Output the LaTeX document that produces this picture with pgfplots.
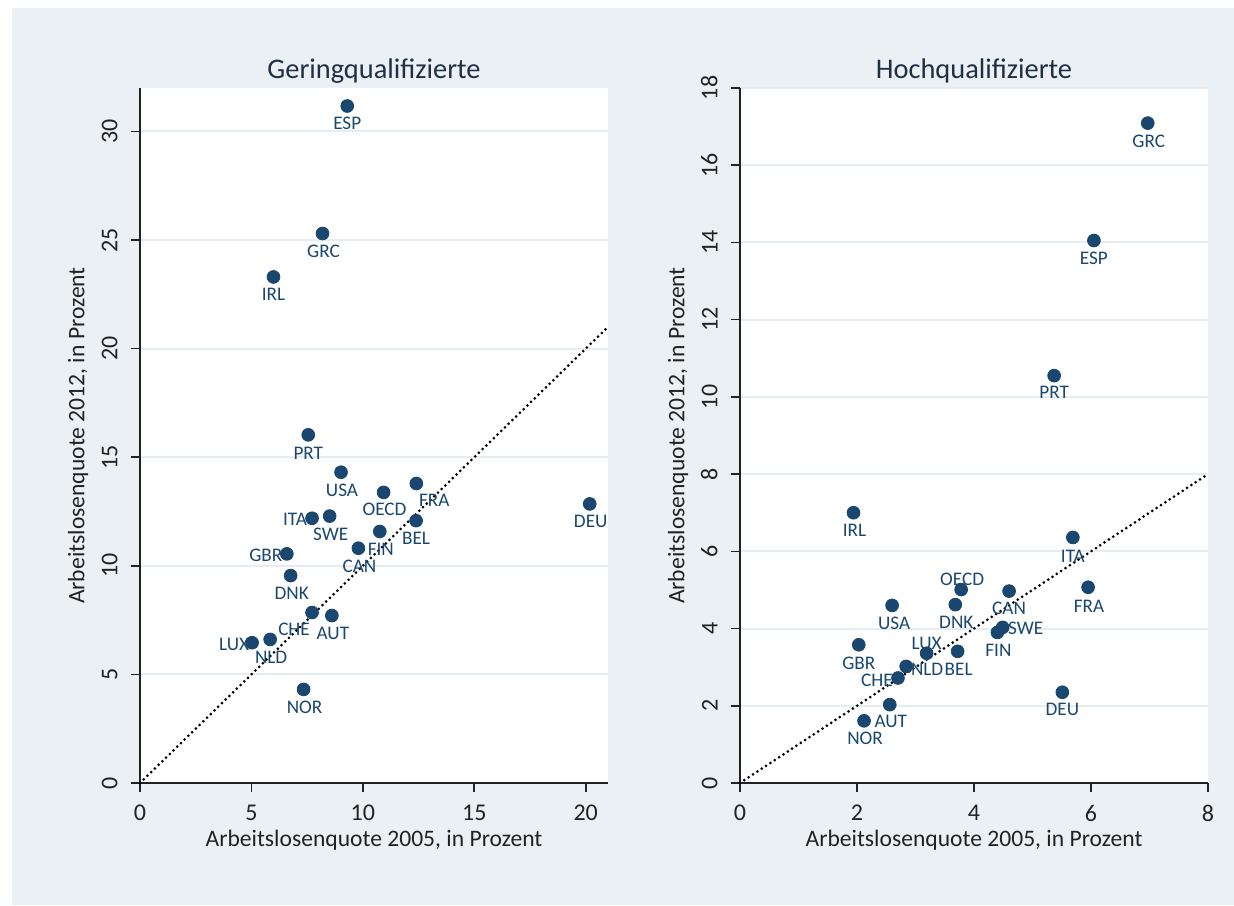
\documentclass[border=0pt]{standalone}
\usepackage{pgfplots}
\pgfplotsset{compat=1.18}
\usepackage{pgfplotstable}
\usepackage{fontspec}
\setmainfont{Carlito}
\definecolor{bg}{HTML}{EAF0F3}
\definecolor{navy}{HTML}{1A476F}
\definecolor{gridc}{HTML}{E6EDF0}
\definecolor{axc}{HTML}{222222}
\definecolor{titlec}{HTML}{1F2F45}

\pgfplotstableread{
x y lab dx dy
9.30 31.17 ESP 0 -8.5
8.19 25.30 GRC 0.5 -9
5.99 23.30 IRL 0 -8.5
7.55 16.03 PRT 0 -9
9.02 14.31 USA 0.5 -9
10.93 13.38 OECD 0.5 -8.5
12.40 13.79 FRA 9 -8.5
7.72 12.19 ITA -8.5 -0.5
8.51 12.29 SWE 0.5 -9
12.39 12.08 BEL 0 -9
10.76 11.58 FIN 0.5 -9
9.80 10.81 CAN 0.5 -9
6.59 10.55 GBR -10.5 -0.5
6.76 9.55 DNK 0.5 -9
7.72 7.85 CHE -9 -8.5
8.61 7.71 AUT 0.5 -9
5.03 6.46 LUX -9 -1
5.84 6.61 NLD 0.5 -9
7.34 4.31 NOR 0.5 -9
20.18 12.85 DEU 0.5 -8.5
}\lowq

\pgfplotstableread{
x y lab dx dy
6.97 17.09 GRC 0.5 -9
6.05 14.05 ESP 0 -9
5.37 10.55 PRT 0 -8.5
1.94 7.00 IRL 0.5 -9
5.69 6.36 ITA 0 -9.3
5.95 5.07 FRA 0.5 -9.3
3.78 5.01 OECD 0.5 5
4.60 4.97 CAN 0 -8.8
2.60 4.60 USA 1 -9
3.68 4.62 DNK 0.5 -8.7
4.49 4.03 SWE 11.5 -0.5
4.40 3.90 FIN 0.5 -9
2.03 3.58 GBR 0 -9.3
3.19 3.36 LUX 0 5
3.72 3.41 BEL 0.5 -8.8
2.84 3.02 NLD 10.5 -1.3
2.70 2.72 CHE -10.5 -1
2.56 2.03 AUT 0.5 -8.5
2.12 1.61 NOR 0.5 -8.8
5.51 2.35 DEU 0 -8.8
}\highq

\pgfplotsset{
  stata/.style={
    scale only axis, width=234pt, height=347.5pt,
    axis lines=left,
    axis line style={-, draw=axc, line width=0.8pt},
    axis background/.style={fill=white},
    tick align=outside, major tick length=4.5pt,
    tick style={draw=axc, line width=0.8pt},
    ymajorgrids, major grid style={draw=gridc, line width=1pt},
    clip=false,
    /pgf/number format/assume math mode=true,
    ticklabel style={font=\fontsize{12}{14}\selectfont, text=axc, inner sep=0pt},
    xticklabel style={anchor=north, yshift=-6.5pt},
    yticklabel style={rotate=90, anchor=south, yshift=6.5pt},
    every axis title/.style={at={(0.5,1.024)}, anchor=center,
      font=\fontsize{14.2}{16}\selectfont, text=titlec},
    every axis x label/.style={at={(axis description cs:0.5,-0.082)}, anchor=center,
      font=\fontsize{11.8}{13}\selectfont, text=axc},
    every axis y label/.style={at={(axis description cs:-0.1325,0.5)}, rotate=90, anchor=center,
      font=\fontsize{11.8}{13}\selectfont, text=axc},
    xlabel={Arbeitslosenquote 2005, in Prozent},
    ylabel={Arbeitslosenquote 2012, in Prozent},
  },
  pts/.style={only marks, mark=*, mark size=3.2pt, draw=navy, fill=navy,
    point meta=explicit symbolic, nodes near coords,
    visualization depends on={\thisrow{dx} \as \ldx},
    visualization depends on={\thisrow{dy} \as \ldy},
    every node near coord/.append style={anchor=center, xshift=\ldx pt, yshift=\ldy pt,
      font=\fontsize{9.6}{10}\selectfont, text=navy, inner sep=0pt}},
  diag/.style={black, line width=1.5pt, line cap=round, dash pattern=on 0pt off 2.6pt},
}

\begin{document}
\begin{tikzpicture}
\fill[white] (0,0) rectangle (617pt,452.5pt);
\fill[bg] (6pt,0) rectangle (617pt,448.5pt);

\begin{axis}[stata, at={(70pt,61pt)}, anchor=south west,
  title={Geringqualifizierte},
  xmin=0, xmax=21, ymin=0, ymax=32,
  xtick={0,5,10,15,20}, ytick={0,5,10,15,20,25,30}]
  \addplot[diag] coordinates {(0,0) (21,21)};
  \addplot[pts] table[x=x, y=y, meta=lab] {\lowq};
\end{axis}

\begin{axis}[stata, at={(370pt,61pt)}, anchor=south west,
  title={Hochqualifizierte},
  xmin=0, xmax=8, ymin=0, ymax=18,
  xtick={0,2,4,6,8}, ytick={0,2,4,6,8,10,12,14,16,18}]
  \addplot[diag] coordinates {(0,0) (8,8)};
  \addplot[pts] table[x=x, y=y, meta=lab] {\highq};
\end{axis}
\end{tikzpicture}
\end{document}
